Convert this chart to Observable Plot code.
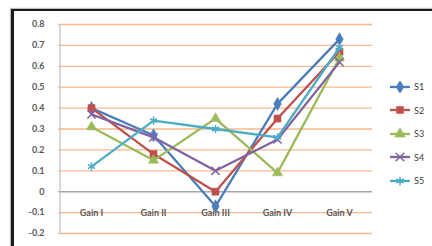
<!DOCTYPE html>
<html>
<head>
<meta charset="utf-8">
<script src="https://cdn.jsdelivr.net/npm/d3@7"></script>
<script src="https://cdn.jsdelivr.net/npm/@observablehq/plot@0.6"></script>
<style>
  html, body { margin: 0; padding: 0; background: #fff; }
  #wrap { position: relative; width: 432px; height: 246px; overflow: hidden; font-family: Lato, "Open Sans", sans-serif; }
  #frame { position: absolute; left: 11px; top: 9px; width: 440px; height: 260px; border-left: 3px solid #1a1a1a; border-top: 2px solid #1a1a1a; box-shadow: -1px -1px 1px #bbb; }
  #chart { position: absolute; left: 0; top: 0; }
  #legend { position: absolute; left: 389px; top: 75px; font-size: 9px; color: #404040; }
  .item { display: flex; align-items: center; height: 23.5px; }
  .item span { margin-left: 3px; }
</style>
</head>
<body>
<div id="wrap">
  <div id="frame"></div>
  <div id="chart"></div>
  <div id="legend"></div>
</div>
<script>
const categories = ["Gain I", "Gain II", "Gain III", "Gain IV", "Gain V"];
const seriesNames = ["S1", "S2", "S3", "S4", "S5"];
const S1 = [0.40, 0.27, -0.07, 0.42, 0.73];
const S2 = [0.40, 0.18, 0.00, 0.35, 0.67];
const S3 = [0.31, 0.15, 0.35, 0.09, 0.64];
const S4 = [0.37, 0.26, 0.10, 0.25, 0.62];
const S5 = [0.12, 0.34, 0.30, 0.26, 0.69];
const yTicks = [-0.2, -0.1, 0, 0.1, 0.2, 0.3, 0.4, 0.5, 0.6, 0.7, 0.8];

const colors = ["#4A7EBB", "#C0504D", "#9BBB59", "#8064A2", "#4BACC6"];
const symbols = ["diamond", "square", "triangle", "times", "asterisk"];
const filled = [true, true, true, false, false];

const values = [S1, S2, S3, S4, S5];
const data = [];
seriesNames.forEach((s, i) => values[i].forEach((v, j) => data.push({series: s, cat: categories[j], value: v, idx: i})));

const fmt = d => String(Math.round(d * 10) / 10);

const marks = [
  Plot.ruleY(yTicks.filter(d => d !== 0), {stroke: "#F9B98A", strokeWidth: 1.3}),
  Plot.ruleY([0], {stroke: "#A6A6A6", strokeWidth: 1.5}),
  Plot.ruleX([categories[0]], {dx: -31.4, stroke: "#BFBFBF", strokeWidth: 1.2}),
  Plot.axisY({ticks: yTicks, tickFormat: fmt, tickSize: 0, tickPadding: 14, fontSize: 9, fontWeight: "bold", fill: "#595959", label: null}),
  Plot.text(categories, {x: d => d, y: 0, dy: 21, fontSize: 9, fill: "#595959", fontWeight: "bold"})
];
seriesNames.forEach((s, i) => {
  const d = data.filter(r => r.series === s);
  marks.push(Plot.line(d, {x: "cat", y: "value", stroke: colors[i], strokeWidth: 2.3}));
  marks.push(Plot.dot(d, {
    x: "cat", y: "value", symbol: () => symbols[i], r: i < 2 ? 4 : 3.8,
    fill: filled[i] ? colors[i] : "none",
    stroke: colors[i], strokeWidth: filled[i] ? 0.5 : 1.5
  }));
});

const chart = Plot.plot({
  width: 432, height: 246,
  marginLeft: 58, marginRight: 60, marginTop: 24, marginBottom: 13,
  x: {type: "point", domain: categories, padding: 0.5, axis: null},
  y: {domain: [-0.2, 0.8], axis: null},
  style: {background: "transparent", fontFamily: "Lato, 'Open Sans', sans-serif"},
  marks
});
document.getElementById("chart").appendChild(chart);

// legend
const leg = d3.select("#legend");
const symMap = {diamond: d3.symbolDiamond, square: d3.symbolSquare, triangle: d3.symbolTriangle, times: d3.symbolTimes, asterisk: d3.symbolAsterisk};
seriesNames.forEach((s, i) => {
  const item = leg.append("div").attr("class", "item");
  const svg = item.append("svg").attr("width", 22).attr("height", 12);
  svg.append("line").attr("x1", 1).attr("x2", 21).attr("y1", 6).attr("y2", 6).attr("stroke", colors[i]).attr("stroke-width", 2.3);
  svg.append("path").attr("transform", "translate(11,6)")
    .attr("d", d3.symbol(symMap[symbols[i]], 50)())
    .attr("fill", filled[i] ? colors[i] : "none")
    .attr("stroke", colors[i]).attr("stroke-width", filled[i] ? 0.5 : 1.5);
  item.append("span").text(s);
});
</script>
</body>
</html>
